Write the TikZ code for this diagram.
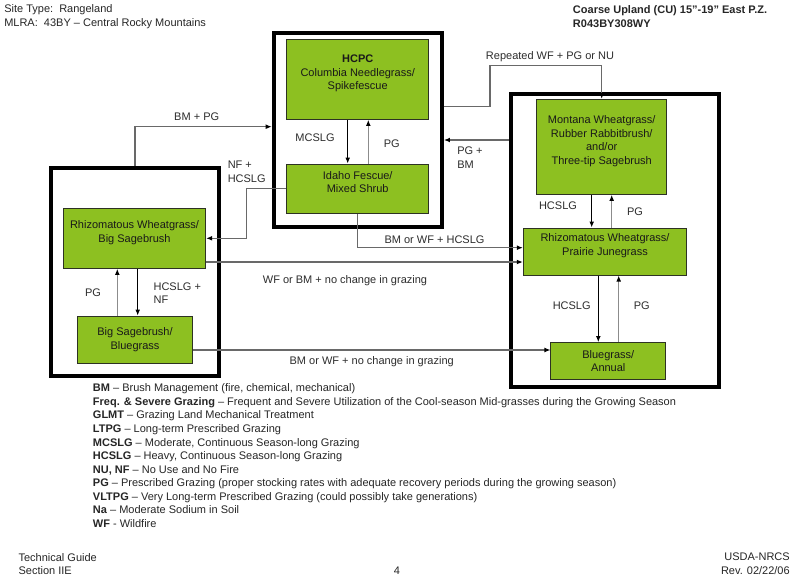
\documentclass[tikz,border=0pt]{standalone}
\usepackage{fontspec}
\setmainfont{Liberation Sans}
\usetikzlibrary{arrows.meta}
\definecolor{sagegreen}{RGB}{141,192,33}
\definecolor{boxline}{RGB}{45,50,35}
\definecolor{linkgray}{RGB}{105,105,105}
\definecolor{lightlink}{RGB}{140,140,140}
\definecolor{labelgray}{RGB}{45,45,45}
\begin{document}
\begin{tikzpicture}[x=0.75pt,y=-0.75pt,>={Latex[length=4.5pt,width=3.6pt,color=black]},
    font=\fontsize{8.25}{10.17}\selectfont,
    community/.style={draw=boxline,fill=sagegreen,line width=0.75pt,inner sep=0pt,align=center,text=black!90},
    phasebox/.style={draw=black,line width=3pt,inner sep=0pt},
    link/.style={->,draw=linkgray,line width=0.8pt},
    downlink/.style={->,draw=black,line width=0.8pt},
    uplink/.style={->,draw=lightlink,line width=0.8pt}]
    \path[use as bounding box,fill=white] (0,0) rectangle (800,586);

    % state boxes
    \node[phasebox,minimum width=126.2pt,minimum height=145.7pt] (phaseC) at (357.85,129.85) {};
    \node[phasebox,minimum width=125.5pt,minimum height=156.2pt] (phaseL) at (135,272.15) {};
    \node[phasebox,minimum width=156pt,minimum height=219.5pt] (phaseR) at (615,240.65) {};

    % plant communities
    \node[community,minimum width=106.5pt,minimum height=60.2pt] (hcpc) at (357.7,79.2)
        {\textbf{HCPC}\\Columbia Needlegrass/\\Spikefescue\\~};
    \node[community,minimum width=106.5pt,minimum height=37pt] (idaho) at (357.7,188.7)
        {Idaho Fescue/\\Mixed Shrub\\~};
    \node[community,minimum width=97.5pt,minimum height=71.25pt] (montana) at (601.7,146.8)
        {Montana Wheatgrass/\\Rubber Rabbitbrush/\\and/or\\Three-tip Sagebrush\\~};
    \node[community,minimum width=122.5pt,minimum height=35.25pt] (prairie) at (605,251.5)
        {Rhizomatous Wheatgrass/\\Prairie Junegrass\\~};
    \node[community,minimum width=86pt,minimum height=27.5pt] (bluegrass) at (608.3,361)
        {Bluegrass/\\Annual};
    \node[community,minimum width=106.8pt,minimum height=45pt] (bigsage) at (134.5,238.3)
        {Rhizomatous Wheatgrass/\\Big Sagebrush\\~};
    \node[community,minimum width=86.5pt,minimum height=35.5pt] (sagebg) at (135,339.7)
        {Big Sagebrush/\\Bluegrass};

    \coordinate (repbend) at (490,65.3);
    \coordinate (nfbend) at (246.7,238.3);

    % transitions
    \draw[link] (phaseL.north) |- (phaseC.west |- 0,126.7);
    \draw[downlink] (hcpc.south -| 347.7,0) -- (idaho.north -| 347.7,0);
    \draw[uplink] (idaho.north -| 368.3,0) -- (hcpc.south -| 368.3,0);
    \draw[link] (phaseC.east |- 0,106.7) -| (repbend) -| (montana.north);
    \draw[link] (phaseR.west |- 0,140) -- (phaseC.east |- 0,140);
    \draw[link] (idaho.west) -| (nfbend) -- (bigsage.east);
    \draw[link] (idaho.south) |- (prairie.west |- 0,247.7);
    \draw[link] (bigsage.east |- 0,262) -- (prairie.west |- 0,262);
    \draw[downlink] (montana.south -| 591.7,0) -- (prairie.north -| 591.7,0);
    \draw[uplink] (prairie.north -| 611.7,0) -- (montana.south -| 611.7,0);
    \draw[downlink] (prairie.south -| 598.3,0) -- (bluegrass.north -| 598.3,0);
    \draw[uplink] (bluegrass.north -| 618.7,0) -- (prairie.south -| 618.7,0);
    \draw[uplink] (sagebg.north -| 117.3,0) -- (bigsage.south -| 117.3,0);
    \draw[downlink] (bigsage.south -| 137.7,0) -- (sagebg.north -| 137.7,0);
    \draw[link] (sagebg.east |- 0,350) -- (bluegrass.west |- 0,350);

    \begin{scope}[every node/.style={inner sep=0pt,text=labelgray,text height=5.9pt,text depth=0pt}]
        \node (bmpg) at (196.7,117) {BM + PG};
        \node (mcslg) at (315,138) {MCSLG};
        \node (pgtop) at (391.7,144) {PG};
        \node (repwf) at (550,56) {Repeated WF + PG or NU};
        \node (bmwfh) at (434.5,239.3) {BM or WF + HCSLG};
        \node (wfbm) at (345,280) {WF or BM + no change in grazing};
        \node (bmwf) at (371.7,360.7) {BM or WF + no change in grazing};
        \node (hcslgr) at (558,205.7) {HCSLG};
        \node (pgr) at (635,212) {PG};
        \node (hcslgb) at (571.7,306) {HCSLG};
        \node (pgb) at (641.7,306) {PG};
        \node (pgl) at (93,293) {PG};
    \end{scope}
    \begin{scope}[every node/.style={inner sep=0pt,text=labelgray,align=left,anchor=west}]
        \node (pgbm) at (457,157.5) {PG +\\BM};
        \node (nfh) at (227.5,172) {NF +\\HCSLG};
        \node (hnf) at (153.3,293.3) {HCSLG +\\NF};
    \end{scope}

    % page text
    \begin{scope}[every node/.style={inner sep=0pt,text=black!85}]
        \node[anchor=west,align=left] (site) at (4,16.6)
            {Site Type:\ \ Rangeland\\MLRA:\ \ 43BY – Central Rocky Mountains};
        \node[anchor=west,align=left,font=\fontsize{8.25}{10.17}\selectfont\bfseries] (siteid) at (572.7,16.7)
            {Coarse Upland (CU) 15”-19” East P.Z.\\R043BY308WY};
        \node[anchor=north west,align=left] (legend) at (92.7,383.6)
            {\textbf{BM} – Brush Management (fire, chemical, mechanical)\\
             \textbf{Freq. \& Severe Grazing} – Frequent and Severe Utilization of the Cool-season Mid-grasses during the Growing Season\\
             \textbf{GLMT} – Grazing Land Mechanical Treatment\\
             \textbf{LTPG} – Long-term Prescribed Grazing\\
             \textbf{MCSLG} – Moderate, Continuous Season-long Grazing\\
             \textbf{HCSLG} – Heavy, Continuous Season-long Grazing\\
             \textbf{NU, NF} – No Use and No Fire\\
             \textbf{PG} – Prescribed Grazing (proper stocking rates with adequate recovery periods during the growing season)\\
             \textbf{VLTPG} – Very Long-term Prescribed Grazing (could possibly take generations)\\
             \textbf{Na} – Moderate Sodium in Soil\\
             \textbf{WF} - Wildfire};
        \node[anchor=west,align=left] (guide) at (18.3,563.9) {Technical Guide\\Section IIE};
        \node (pagenum) at (397,571) {4};
        \node[anchor=east,align=right] (agency) at (790,563.9) {USDA-NRCS\\Rev. 02/22/06};
    \end{scope}
\end{tikzpicture}
\end{document}
